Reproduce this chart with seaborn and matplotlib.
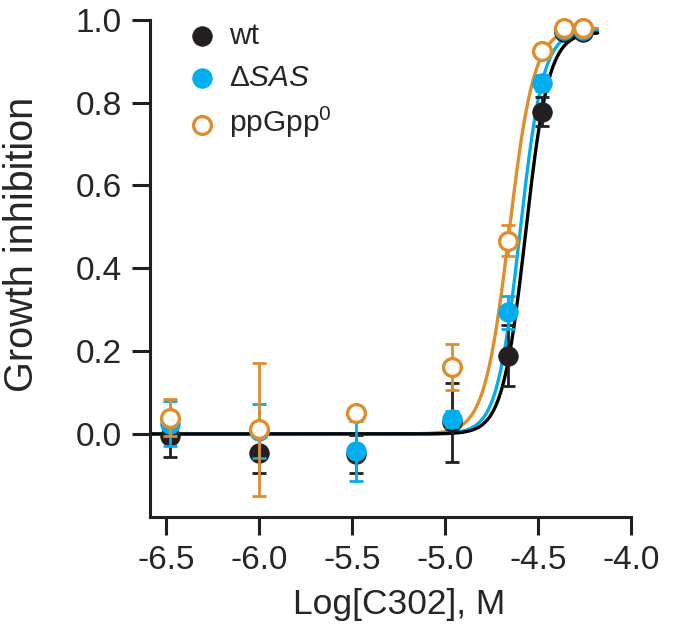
import numpy as np
import pandas as pd
import matplotlib
matplotlib.use("Agg")
import matplotlib.pyplot as plt
import seaborn as sns

# ---- data ----
log_conc = [-6.48, -6.0, -5.48, -4.96, -4.66, -4.48, -4.36, -4.26]
series = ["wt", "dSAS", "ppGpp0"]
wt_mean = [-0.005, -0.045, -0.048, 0.028, 0.189, 0.778, 0.970, 0.970]
wt_sd = [0.050, 0.050, 0.046, 0.095, 0.073, 0.035, 0.010, 0.010]
sas_mean = [0.025, 0.008, -0.041, 0.036, 0.294, 0.847, 0.975, 0.975]
sas_sd = [0.055, 0.065, 0.072, 0.020, 0.040, 0.020, 0.010, 0.010]
pp_mean = [0.039, 0.011, 0.050, 0.161, 0.467, 0.925, 0.980, 0.980]
pp_sd = [0.045, 0.160, 0.010, 0.056, 0.037, 0.010, 0.005, 0.005]
# fitted dose-response parameters (top, logIC50, Hill slope)
fit_top = [0.970, 0.975, 0.980]
fit_logic50 = [-4.567, -4.597, -4.655]
fit_hill = [7.0, 7.0, 6.5]
labels = ["wt", r"$\Delta\mathit{SAS}$", r"ppGpp$^{0}$"]
xticks = [-6.5, -6.0, -5.5, -5.0, -4.5, -4.0]
yticks = [0.0, 0.2, 0.4, 0.6, 0.8, 1.0]

colors = ["#231F20", "#00AEEF", "#DF8E2C"]

sns.set_style("ticks")
plt.rcParams["font.family"] = ["Liberation Sans", "DejaVu Sans"]
plt.rcParams["mathtext.fontset"] = "custom"
plt.rcParams["mathtext.rm"] = "Liberation Sans"
plt.rcParams["mathtext.it"] = "Liberation Sans:italic"

fig = plt.figure(figsize=(6.75, 6.38), dpi=100)
ax = fig.add_axes([0.222, 0.190, 0.713, 0.779])

means = [wt_mean, sas_mean, pp_mean]
sds = [wt_sd, sas_sd, pp_sd]

# fitted curves (orange bottom, black on top)
xs = np.linspace(-6.586, -4.18, 600)
curve_colors = ["#000000", "#00AEEF", "#DF8E2C"]
for i in [2, 1, 0]:
    ys = fit_top[i] / (1 + 10 ** ((fit_logic50[i] - xs) * fit_hill[i]))
    cdf = pd.DataFrame({"x": xs, "y": ys})
    sns.lineplot(data=cdf, x="x", y="y", ax=ax, color=curve_colors[i], lw=2.4,
                 zorder=2 + (2 - i) * 0.1, legend=False)

# points with error bars (black bottom, orange top)
for i in range(3):
    df = pd.DataFrame({"x": log_conc, "y": means[i], "sd": sds[i]})
    z = 5 + i
    ax.errorbar(df["x"], df["y"], yerr=df["sd"], fmt="none", ecolor=colors[i],
                elinewidth=2.0, capsize=5, capthick=2.0, zorder=z, clip_on=False)
    if i < 2:
        sns.scatterplot(data=df, x="x", y="y", ax=ax, color=colors[i], s=200,
                        edgecolor=colors[i], linewidth=0.5, zorder=z + 0.5,
                        label=labels[i], clip_on=False)
    else:
        sns.scatterplot(data=df, x="x", y="y", ax=ax, facecolor="white", s=165,
                        edgecolor=colors[i], linewidth=2.4, zorder=z + 0.5,
                        label=labels[i], clip_on=False)

ax.set_xlim(-6.586, -4.0)
ax.set_ylim(-0.2, 1.0)
ax.set_xticks(xticks)
ax.set_xticklabels([f"{t:.1f}" for t in xticks])
ax.set_yticks(yticks)
ax.set_yticklabels([f"{t:.1f}" for t in yticks])
for s in ["top", "right"]:
    ax.spines[s].set_visible(False)
for s in ["left", "bottom"]:
    ax.spines[s].set_linewidth(2.2)
    ax.spines[s].set_color("#231F20")
ax.tick_params(axis="both", length=13, width=2.2, color="#231F20",
               labelsize=24, pad=7)
ax.set_xlabel("Log[C302], M", fontsize=25.5)
ax.set_ylabel("Growth inhibition", fontsize=28.5)
ax.xaxis.set_label_coords(0.518, -0.143)
ax.yaxis.set_label_coords(-0.266, 0.549)
ax.yaxis.label.set_va("center")

leg = ax.legend(loc="upper left", bbox_to_anchor=(0.052, 1.019), frameon=False,
                fontsize=21.5, handlelength=1.0, handletextpad=0.4,
                labelspacing=0.45, borderaxespad=0.0, markerscale=1.0)

fig.savefig("out.png", dpi=100)
